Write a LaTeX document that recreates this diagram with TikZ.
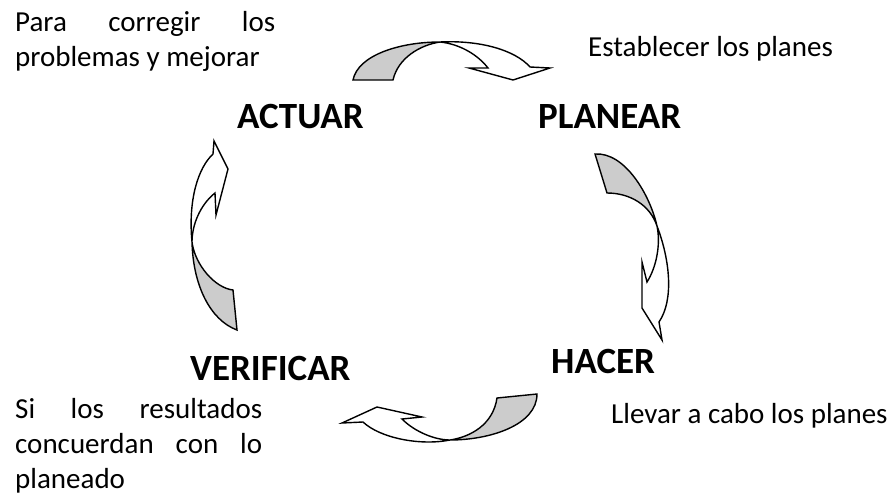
\documentclass[tikz,border=0pt]{standalone}
\usepackage{fontspec}
\setmainfont{Carlito}
\hyphenpenalty=10000
\definecolor{arrowgrey}{RGB}{204,204,204}
\def\dgrey{\filldraw[fill=arrowgrey,line width=1.4pt]}
\def\dwhite{\filldraw[fill=white,line width=1.4pt]}
\tikzset{
  note/.style={inner sep=0pt,font=\fontsize{29}{35}\selectfont},
  stage/.style={inner sep=0pt,anchor=base west,font=\fontsize{37}{44}\selectfont\bfseries}
}

\begin{document}
\begin{tikzpicture}[x=1pt,y=-1pt]
\useasboundingbox (0,0) rectangle (894,495);
% stage names
\node[stage] (actuar)    at (237,128) {ACTUAR};
\node[stage] (planear)   at (538,128) {PLANEAR};
\node[stage] (verificar) at (190,380) {VERIFICAR};
\node[stage] (hacer)     at (551,373) {HACER};
% notes
\node[note,anchor=base west,text width=260pt,align=justify] (corregir) at (15,32)
  {Para corregir los\linebreak problemas y mejorar};
\node[note,anchor=base west] (establecer) at (588,57) {Establecer los planes};
\node[note,anchor=base west] (llevar) at (611,423) {Llevar a cabo los planes};
\node[note,anchor=base west,text width=247pt,align=justify] (resultados) at (15,418)
  {Si los resultados\linebreak concuerdan con lo\linebreak planeado};
% top arrow
\dgrey (353,80) .. controls (358,55) and (400,42) .. (440,42)
  .. controls (420,45) and (398,58) .. (393,80) -- cycle;
\dwhite (440,42) .. controls (480,40) and (515,50) .. (530,67)
  -- (550,68) -- (513,80) -- (469,68) -- (488,68)
  .. controls (478,55) and (460,44) .. (440,42) -- cycle;
% right arrow
\dgrey (595,154) -- (607,193) .. controls (630,193) and (650,205) .. (657,226)
  .. controls (650,195) and (625,152) .. (595,154) -- cycle;
\dwhite (657,226) .. controls (670,260) and (674,300) .. (659,322)
  -- (662,340) -- (642,308) -- (642,262) -- (647,282)
  .. controls (656,268) and (661,245) .. (657,226) -- cycle;
% bottom arrow
\dgrey (497,398) -- (537,394) .. controls (537,425) and (490,440) .. (450,440)
  .. controls (470,437) and (493,425) .. (497,398) -- cycle;
\dwhite (450,440) .. controls (420,446) and (380,438) .. (363,422)
  -- (342,423) -- (377,407) -- (422,417) -- (402,419)
  .. controls (415,432) and (435,440) .. (450,440) -- cycle;
% left arrow
\dgrey (192,242) .. controls (193,285) and (210,320) .. (237,330)
  -- (233,290) .. controls (215,288) and (195,265) .. (192,242) -- cycle;
\dwhite (192,242) .. controls (188,200) and (198,168) .. (213,154)
  -- (214,141) -- (228,169) -- (216,215) -- (215,193)
  .. controls (200,205) and (192,225) .. (192,242) -- cycle;
\end{tikzpicture}
\end{document}
